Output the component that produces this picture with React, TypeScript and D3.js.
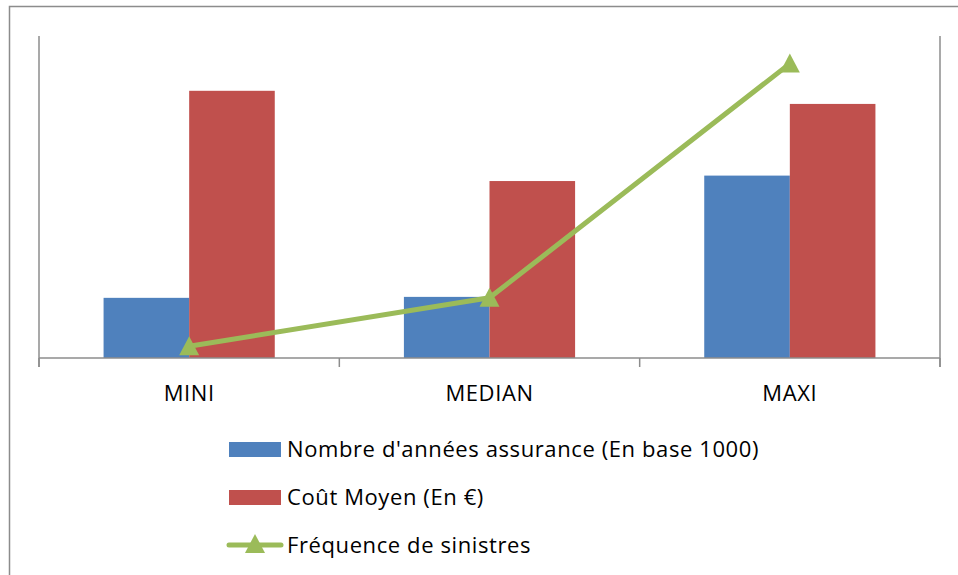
import React from "react";
import * as d3 from "d3";

const categories = ["MINI", "MEDIAN", "MAXI"];
const nombreAnnees = [18.8, 19.1, 57.0];
const coutMoyen = [83.5, 55.3, 79.4];
const frequence = [3.7, 18.8, 92.0];
const legendLabels = [
  "Nombre d'années assurance (En base 1000)",
  "Coût Moyen (En €)",
  "Fréquence de sinistres",
];

const W = 958;
const H = 575;
const FONT = "'Open Sans', sans-serif";
const BLUE = "#4F81BD";
const RED = "#C0504D";
const GREEN = "#9BBB59";
const AXIS = "#8C8C8C";

export default function App() {
  const left = 39;
  const right = 940;
  const top = 36;
  const bottom = 358;

  const x = d3.scaleBand<string>().domain(categories).range([left, right]).paddingInner(0).paddingOuter(0);
  const y = d3.scaleLinear().domain([0, 100]).range([bottom, bottom - 320]);
  const y2 = d3.scaleLinear().domain([0, 100]).range([bottom, bottom - 320]);

  const band = x.bandwidth();
  const barW = band * 0.285;
  const center = (c: string) => (x(c) as number) + band / 2;

  const line = d3
    .line<number>()
    .x((_, i) => center(categories[i]))
    .y((d) => y2(d));

  const tri = (cx: number, cy: number, s = 10) =>
    `M${cx},${cy - s} L${cx + s},${cy + s * 0.9} L${cx - s},${cy + s * 0.9} Z`;

  const ticks = [left, ...categories.map((c) => (x(c) as number) + band)];

  const legendY = [449, 497, 545];

  return (
    <svg width={W} height={H} style={{ position: "absolute", left: 0, top: 0 }}>
      <rect x={0} y={0} width={W} height={H} fill="#fff" />
      <rect x={9.5} y={6.5} width={W + 10} height={H + 10} fill="none" stroke={AXIS} strokeWidth={1.5} />

      {categories.map((c, i) => (
        <g key={c}>
          <rect x={center(c) - barW} y={y(nombreAnnees[i])} width={barW} height={bottom - y(nombreAnnees[i])} fill={BLUE} />
          <rect x={center(c)} y={y(coutMoyen[i])} width={barW} height={bottom - y(coutMoyen[i])} fill={RED} />
        </g>
      ))}

      <line x1={left} x2={left} y1={top} y2={bottom + 9} stroke={AXIS} strokeWidth={1.5} />
      <line x1={right} x2={right} y1={top} y2={bottom + 9} stroke={AXIS} strokeWidth={1.5} />
      <line x1={left} x2={right} y1={bottom} y2={bottom} stroke={AXIS} strokeWidth={1.5} />
      {ticks.map((t, i) => (
        <line key={i} x1={t} x2={t} y1={bottom} y2={bottom + 9} stroke={AXIS} strokeWidth={1.5} />
      ))}

      <path d={line(frequence) || ""} fill="none" stroke={GREEN} strokeWidth={5} strokeLinejoin="round" />
      {frequence.map((v, i) => (
        <path key={i} d={tri(center(categories[i]), y2(v))} fill={GREEN} />
      ))}

      {categories.map((c) => (
        <text key={c} x={center(c)} y={401} textAnchor="middle" fontFamily={FONT} fontSize={22} letterSpacing={0.6} fill="#000">
          {c}
        </text>
      ))}

      <rect x={229} y={442} width={52} height={15} fill={BLUE} />
      <rect x={229} y={490} width={52} height={15} fill={RED} />
      <line x1={229} x2={281} y1={legendY[2]} y2={legendY[2]} stroke={GREEN} strokeWidth={5} strokeLinecap="round" />
      <path d={tri(255, legendY[2] - 1)} fill={GREEN} />
      {legendLabels.map((l, i) => (
        <text key={l} x={287} y={legendY[i] + 8} fontFamily={FONT} fontSize={22} letterSpacing={0.6} fill="#000">
          {l}
        </text>
      ))}
    </svg>
  );
}
